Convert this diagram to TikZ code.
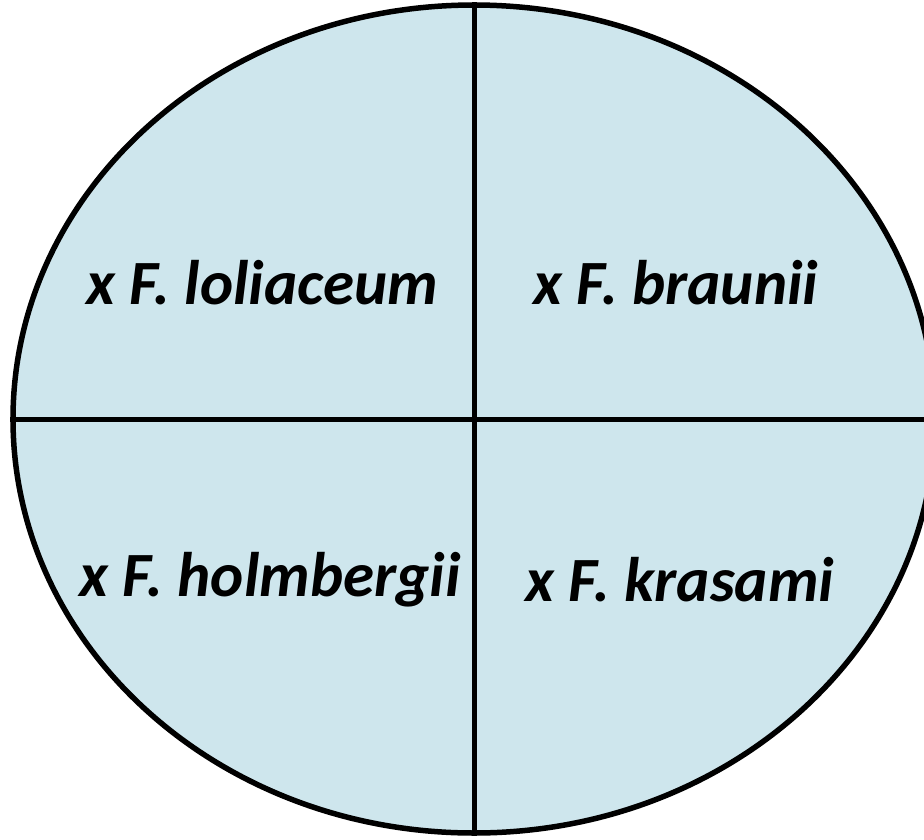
\documentclass[tikz,border=0pt]{standalone}
\usepackage{fontspec}
\setmainfont{Carlito}
\usetikzlibrary{shapes.geometric,positioning}
\definecolor{poolblue}{RGB}{206,230,237}

\begin{document}
\begin{tikzpicture}[
    x=1pt, y=-1pt,
    pool/.style={ellipse, draw=black, fill=poolblue, line width=5.5pt, inner sep=0pt,
                 minimum width=922pt, minimum height=828pt},
    divider/.style={draw=black, line width=5pt},
    hybrid/.style={font=\fontsize{63}{75}\selectfont\bfseries\itshape, inner sep=0pt},
]
\useasboundingbox (0,0) rectangle (924,839);
\clip (0,0) rectangle (924,839);

% ============ ELLIPSE ============
\node[pool] (pond) at (474,419) {};

% ============ QUADRANT LINES ============
\draw[divider] (pond.north) -- (pond.south);
\draw[divider] (pond.west) -- (pond.east);

% ============ LABELS ============
\node[hybrid] (loli) at (262,283) {x F. loliaceum};
\node[hybrid] (brau) at (676,283) {x F. braunii};
\node[hybrid] (holm) at (270,580) {x F. holmbergii};
\node[hybrid] (kras) at (680,580) {x F. krasami};

\end{tikzpicture}
\end{document}
